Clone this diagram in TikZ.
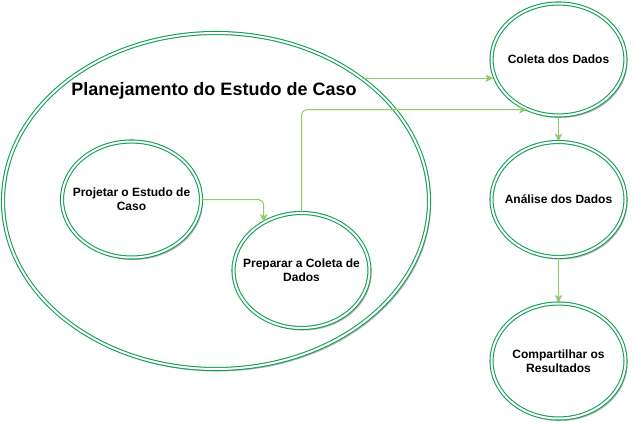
\documentclass[tikz,border=0pt]{standalone}
\usepackage{fontspec}
\setmainfont{Liberation Sans}
\usetikzlibrary{shapes.geometric,arrows.meta,shadows}
\definecolor{ringgreen}{HTML}{0E9E52}
\definecolor{linkgreen}{HTML}{8DCB6B}
\tikzset{
  ring/.style={ellipse, draw=ringgreen, double=white, double distance=2pt,
    line width=1.05pt, fill=white, inner sep=0pt,
    drop shadow={shadow xshift=2pt, shadow yshift=-2.5pt, opacity=0.28, fill=black}},
  ringtext/.style={align=center, inner sep=0pt,
    font=\bfseries\fontsize{12}{14}\selectfont},
  link/.style={draw=linkgreen, line width=1pt,
    -{Stealth[length=8pt,width=7.5pt,inset=2pt]}},
}
\begin{document}
\begin{tikzpicture}[x=1pt,y=-1pt]
\useasboundingbox (0,0) rectangle (634,425);
\node[ring, minimum width=426pt, minimum height=336pt] (big) at (216,201) {};
\node[font=\bfseries\fontsize{18}{21}\selectfont, inner sep=0pt] (title) at (214,91) {Planejamento do Estudo de Caso};
\node[ring, minimum width=139pt, minimum height=116pt,
  label={[ringtext]center:Projetar o Estudo de\\Caso}] (proj) at (131.5,199.5) {};
\node[ring, minimum width=136pt, minimum height=115pt,
  label={[ringtext]center:Preparar a Coleta de\\Dados}] (prep) at (301.5,270.5) {};
\node[ring, minimum width=134pt, minimum height=112pt,
  label={[ringtext]center:Coleta dos Dados}] (coleta) at (558.5,59.5) {};
\node[ring, minimum width=134pt, minimum height=115pt,
  label={[ringtext]center:Análise dos Dados}] (analise) at (558.5,199.5) {};
\node[ring, minimum width=134pt, minimum height=115pt,
  label={[ringtext]center:Compartilhar os\\Resultados}] (comp) at (558.5,361) {};
\draw[link] (big.40.6) -- (big.40.6 -| coleta.193.8);
\draw[link, rounded corners=6pt] (prep.north) |- (coleta.238);
\draw[link, rounded corners=6pt] (proj.east) -| (prep.128);
\draw[link] (coleta.south) -- (analise.north);
\draw[link] (analise.south) -- (comp.north);
\end{tikzpicture}
\end{document}
